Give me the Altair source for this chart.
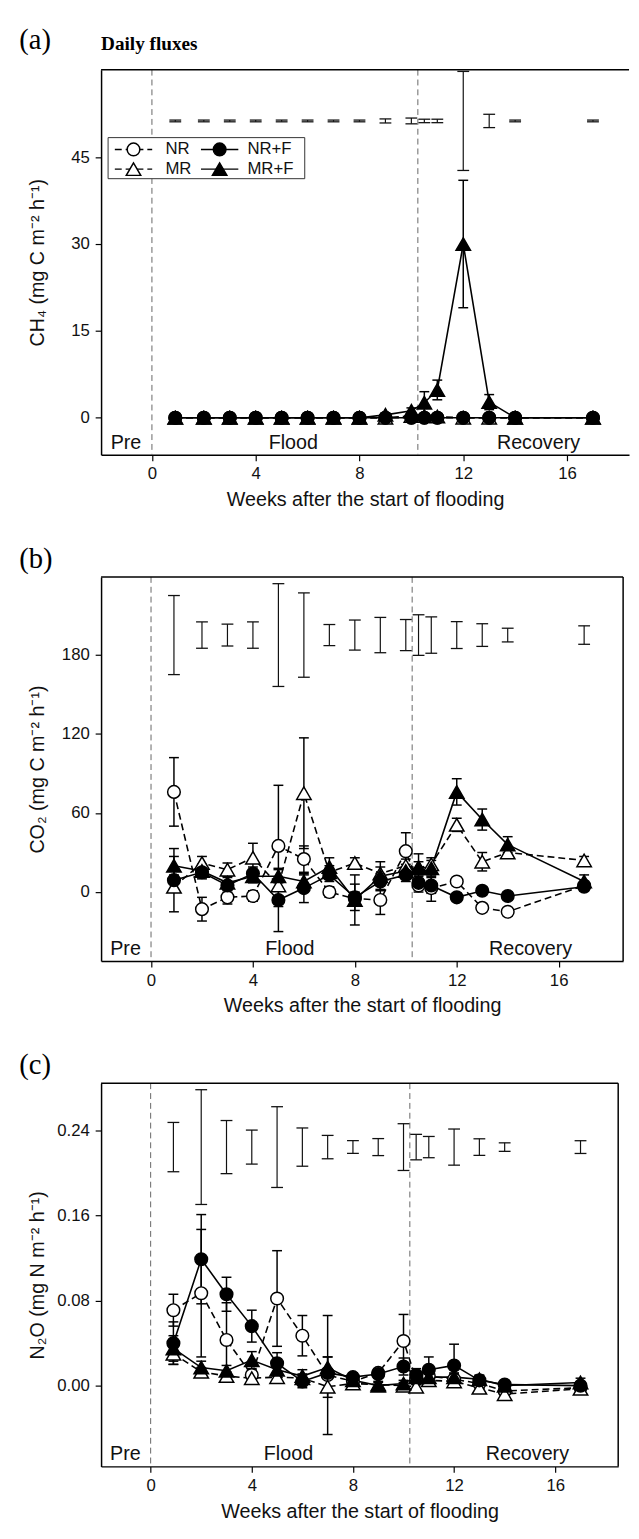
import altair as alt
import pandas as pd

# ---------------- data ----------------
weeks = [0.9, 2, 3, 4, 5, 6, 7, 8, 9, 10, 10.5, 11, 12, 13, 14, 17]
series_order = ["NR", "MR", "NR+F", "MR+F"]
phase_bounds = [0, 10.25]
phase_labels = ["Pre", "Flood", "Recovery"]
phase_label_x = [-1.0, 5.45, 14.9]

# (a) CH4
ch4_nr = [0, 0, 0, 0, 0, 0, 0, 0, 0, 0, 0, 0, 0, 0, 0, 0]
ch4_mr = [0, 0, 0, 0, 0, 0, 0, 0, 0, 0.3, 0.3, 0.2, 0, 0, 0, 0]
ch4_nrf = [0, 0, 0, 0, 0, 0, 0, 0, 0, 0, 0, 0, 0, 0, 0, 0]
ch4_mrf = [0, 0, 0, 0, 0, 0, 0, 0, 0.5, 1.2, 2.6, 4.8, 30.0, 2.7, 0, 0]
ch4_nr_se = [0, 0, 0, 0, 0, 0, 0, 0, 0, 0, 0, 0, 0, 0, 0, 0]
ch4_mr_se = [0, 0, 0, 0, 0, 0, 0, 0, 0, 0, 0, 0, 0, 0, 0, 0]
ch4_nrf_se = [0, 0, 0, 0, 0, 0, 0, 0, 0, 0, 0, 0, 0, 0, 0, 0]
ch4_mrf_se = [0, 0, 0, 0, 0, 0, 0, 0, 0.3, 0.5, 1.9, 1.7, 11.0, 1.3, 0, 0]
ch4_lsd = [0.15, 0.15, 0.15, 0.15, 0.15, 0.15, 0.15, 0.15, 0.35, 0.5, 0.3, 0.3, 8.55, 1.15, 0.15, 0.15]
ch4_lsd_center = 51.25

# (b) CO2
co2_nr = [76, -13, -4, -3, 35, 25, 0, -5, -6, 31, 5, 3, 8, -12, -15, 5]
co2_mr = [4, 22, 17, 26, 5, 75, 15, 22, 14, 20, 18, 21, 51, 23, 30, 24]
co2_nrf = [9, 15, 5, 14, -6, 3, 13, -4, 8, 13, 7, 5, -4, 1, -3, 4]
co2_mrf = [20, 16, 7, 12, 12, 8, 19, -6, 12, 16, 19, 18, 76, 55, 36, 8]
co2_nr_se = [26, 9, 5, 4, 46, 10, 4, 5, 11, 14, 5, 10, 3, 3, 3, 3]
co2_mr_se = [4, 5, 5, 11, 3, 42, 5, 4, 5, 5, 5, 5, 5, 7, 3, 3]
co2_nrf_se = [24, 5, 6, 5, 24, 11, 5, 10, 6, 5, 5, 6, 3, 3, 3, 3]
co2_mrf_se = [7, 5, 5, 5, 5, 5, 7, 19, 11, 5, 10, 6, 10, 8, 6, 5]
co2_lsd = [30, 10, 8.3, 10, 39, 32, 8, 11.4, 13.4, 11.8, 15.4, 13.8, 10.2, 8.6, 5.2, 7]
co2_lsd_center = 195

# (c) N2O
n2o_nr = [0.071, 0.087, 0.043, 0.010, 0.082, 0.047, 0.010, 0.004, 0.012, 0.042, 0.006, 0.009, 0.006, 0.002, -0.005, -0.002]
n2o_mr = [0.030, 0.013, 0.009, 0.007, 0.008, 0.007, -0.001, 0.002, 0.001, 0.000, -0.001, 0.005, 0.004, -0.002, -0.008, -0.003]
n2o_nrf = [0.040, 0.119, 0.086, 0.056, 0.021, 0.004, 0.012, 0.008, 0.011, 0.018, 0.010, 0.015, 0.019, 0.005, 0.001, 0.000]
n2o_mrf = [0.035, 0.017, 0.014, 0.024, 0.015, 0.009, 0.017, 0.005, 0.000, 0.002, 0.008, 0.008, 0.008, 0.006, 0.000, 0.003]
n2o_nr_se = [0.015, 0.060, 0.035, 0.005, 0.045, 0.019, 0.056, 0.004, 0.004, 0.025, 0.005, 0.006, 0.005, 0.004, 0.003, 0.003]
n2o_mr_se = [0.010, 0.004, 0.004, 0.004, 0.004, 0.004, 0.010, 0.003, 0.003, 0.003, 0.003, 0.004, 0.004, 0.004, 0.003, 0.003]
n2o_nrf_se = [0.020, 0.042, 0.016, 0.015, 0.010, 0.006, 0.015, 0.004, 0.004, 0.008, 0.006, 0.012, 0.020, 0.004, 0.003, 0.003]
n2o_mrf_se = [0.012, 0.006, 0.005, 0.008, 0.006, 0.006, 0.010, 0.004, 0.003, 0.003, 0.004, 0.004, 0.004, 0.004, 0.003, 0.004]
n2o_lsd = [0.0232, 0.054, 0.025, 0.016, 0.038, 0.018, 0.011, 0.006, 0.008, 0.022, 0.012, 0.010, 0.017, 0.0078, 0.004, 0.006]
n2o_lsd_center = 0.2245

# legend layout (panel a, in data units)
legend_series = ["NR", "NR+F", "MR", "MR+F"]
legend_sym_x = [-0.71, 2.61, -0.71, 2.61]
legend_txt_x = [0.52, 3.68, 0.52, 3.68]
legend_row_y = [46.33, 46.33, 42.93, 42.93]
legend_box = {"x1": [-1.69], "x2": [5.89], "y1": [41.28], "y2": [48.37]}

STYLE = {
    "NR": ("circle", "white", True),
    "MR": ("triangle-up", "white", True),
    "NR+F": ("circle", "black", False),
    "MR+F": ("triangle-up", "black", False),
}
SIZE = {"circle": 165, "triangle-up": 215}
FONT = "Liberation Sans"


def long_df(vals, errs):
    rows = []
    for s in series_order:
        for w, v, e in zip(weeks, vals[s], errs[s]):
            rows.append({"week": w, "series": s, "value": v, "lo": v - e, "hi": v + e, "err": e})
    return pd.DataFrame(rows)


def panel(tag, tag_y, vals, errs, lsd, lsd_c, ydom, yticks, yfmt, ytitle,
          xdom, w, h, title=None, legend=False, right_border=True):
    xs = alt.Scale(domain=xdom, nice=False, zero=False)
    ys = alt.Scale(domain=ydom, nice=False, zero=False)
    xaxis = alt.Axis(values=[0, 4, 8, 12, 16], title="Weeks after the start of flooding",
                     tickSize=6, labelPadding=5.5, titlePadding=8, labelFontSize=17,
                     titleFontSize=20, titleFontWeight="normal", domainColor="black",
                     domainWidth=1.5, tickColor="black", tickWidth=1.2,
                     labelColor="#111", titleColor="#111", grid=False)
    yaxis = alt.Axis(values=yticks, format=yfmt, title=ytitle, titleX=-54,
                     tickSize=6, labelPadding=6, labelFontSize=17,
                     titleFontSize=20, titleFontWeight="normal", domainColor="black",
                     domainWidth=1.5, tickColor="black", tickWidth=1.2,
                     labelColor="#111", titleColor="#111", grid=False)
    X = lambda f: alt.X(f, type="quantitative", scale=xs, axis=xaxis)
    Y = lambda f: alt.Y(f, type="quantitative", scale=ys, axis=yaxis)
    df = long_df(vals, errs)
    layers = []

    # phase boundaries
    layers.append(alt.Chart(pd.DataFrame({"x": phase_bounds})).mark_rule(
        color="#666", strokeWidth=1, strokeDash=[6, 4]).encode(x=X("x")))

    # phase labels
    ylab = ydom[0] + (ydom[1] - ydom[0]) * 6.0 / h
    layers.append(alt.Chart(pd.DataFrame({"x": phase_label_x, "t": phase_labels, "y": [ylab] * 3}))
                  .mark_text(font=FONT, fontSize=20, baseline="alphabetic", align="center", color="#111")
                  .encode(x=X("x"), y=Y("y"), text="t:N"))

    # LSD bars at top
    ld = pd.DataFrame({"week": weeks, "lo": [lsd_c - v for v in lsd], "hi": [lsd_c + v for v in lsd]})
    layers.append(alt.Chart(ld).mark_rule(color="#111", strokeWidth=1.2).encode(
        x=X("week"), y=Y("lo"), y2="hi:Q"))
    layers.append(alt.Chart(ld).transform_fold(["lo", "hi"], as_=["end", "yv"]).mark_tick(
        orient="horizontal", size=12, thickness=1.3, color="#111", opacity=1).encode(
        x=X("week"), y=Y("yv")))

    # series
    for s in series_order:
        shape, fill, dashed = STYLE[s]
        d = df[df.series == s]
        lk = dict(color="black", strokeWidth=1.6)
        if dashed:
            lk["strokeDash"] = [7, 4]
        layers.append(alt.Chart(d).mark_line(**lk).encode(x=X("week"), y=Y("value")))
        de = d[d.err > 0]
        if len(de):
            layers.append(alt.Chart(de).mark_rule(color="black", strokeWidth=1.5).encode(
                x=X("week"), y=Y("lo"), y2="hi:Q"))
            layers.append(alt.Chart(de).transform_fold(["lo", "hi"], as_=["end", "yv"]).mark_tick(
                orient="horizontal", size=10, thickness=1.5, color="black", opacity=1).encode(
                x=X("week"), y=Y("yv")))
    for s in series_order:
        shape, fill, dashed = STYLE[s]
        d = df[df.series == s]
        layers.append(alt.Chart(d).mark_point(
            shape=shape, filled=True, fill=fill, stroke="black", strokeWidth=1.5,
            size=SIZE[shape], opacity=1).encode(x=X("week"), y=Y("value")))

    # legend
    if legend:
        layers.append(alt.Chart(pd.DataFrame(legend_box)).mark_rect(
            fill="white", stroke="#333", strokeWidth=1).encode(
            x=X("x1"), x2="x2:Q", y=Y("y1"), y2="y2:Q"))
        for s, sx, tx, sy in zip(legend_series, legend_sym_x, legend_txt_x, legend_row_y):
            shape, fill, dashed = STYLE[s]
            ldf = pd.DataFrame({"a": [sx - 0.72], "b": [sx + 0.72], "sx": [sx], "tx": [tx], "y": [sy], "t": [s]})
            rk = dict(color="black", strokeWidth=1.5)
            if dashed:
                rk["strokeDash"] = [7, 4]
            layers.append(alt.Chart(ldf).mark_rule(**rk).encode(x=X("a"), x2="b:Q", y=Y("y")))
            layers.append(alt.Chart(ldf).mark_point(
                shape=shape, filled=True, fill=fill, stroke="black", strokeWidth=1.5,
                size=SIZE[shape], opacity=1).encode(x=X("sx"), y=Y("y")))
            layers.append(alt.Chart(ldf).mark_text(
                font=FONT, fontSize=17, align="left", baseline="middle", color="#111").encode(
                x=X("tx"), y=Y("y"), text="t:N"))

    # frame (top / right)
    one = pd.DataFrame({"k": [1]})
    layers.append(alt.Chart(one).mark_rule(color="black", strokeWidth=1.5).encode(
        x=alt.value(0), x2=alt.value("width"), y=alt.value(0)))
    if right_border:
        layers.append(alt.Chart(one).mark_rule(color="black", strokeWidth=1.5).encode(
            x=alt.value("width"), y=alt.value(0), y2=alt.value("height")))

    # panel tag and title
    layers.append(alt.Chart(pd.DataFrame({"t": [tag]})).mark_text(
        font="Liberation Serif", fontSize=29, align="left", baseline="alphabetic", color="black").encode(
        x=alt.value(-83), y=alt.value(tag_y), text="t:N"))
    if title:
        layers.append(alt.Chart(pd.DataFrame({"t": [title]})).mark_text(
            font="Liberation Serif", fontSize=19.5, fontWeight="bold", align="left",
            baseline="alphabetic", color="black").encode(
            x=alt.value(0), y=alt.value(-19.5), text="t:N"))

    return alt.layer(*layers).properties(width=w, height=h)


pa = panel("(a)", -21,
           {"NR": ch4_nr, "MR": ch4_mr, "NR+F": ch4_nrf, "MR+F": ch4_mrf},
           {"NR": ch4_nr_se, "MR": ch4_mr_se, "NR+F": ch4_nrf_se, "MR+F": ch4_mrf_se},
           ch4_lsd, ch4_lsd_center, [-6.4, 60.1], [0, 15, 30, 45], "d",
           "CH\u2084 (mg C m\u207b\u00b2 h\u207b\u00b9)",
           [-1.96, 18.39], 536, 391, title="Daily fluxes", legend=True, right_border=False)

pb = panel("(b)", -9,
           {"NR": co2_nr, "MR": co2_mr, "NR+F": co2_nrf, "MR+F": co2_mrf},
           {"NR": co2_nr_se, "MR": co2_mr_se, "NR+F": co2_nrf_se, "MR+F": co2_mrf_se},
           co2_lsd, co2_lsd_center, [-52.4, 239.1], [0, 60, 120, 180], "d",
           "CO\u2082 (mg C m\u207b\u00b2 h\u207b\u00b9)",
           [-1.96, 18.53], 530, 390)

pc = panel("(c)", -9,
           {"NR": n2o_nr, "MR": n2o_mr, "NR+F": n2o_nrf, "MR+F": n2o_mrf},
           {"NR": n2o_nr_se, "MR": n2o_mr_se, "NR+F": n2o_nrf_se, "MR+F": n2o_mrf_se},
           n2o_lsd, n2o_lsd_center, [-0.076, 0.2846], [0, 0.08, 0.16, 0.24], ".2f",
           "N\u2082O (mg N m\u207b\u00b2 h\u207b\u00b9)",
           [-1.96, 18.49], 525, 389)

chart = alt.vconcat(pa, pb, pc, spacing=124, bounds="flush").properties(
    padding={"left": 10.5, "top": 6, "right": 0, "bottom": 0}
).configure_view(stroke="transparent").configure_axis(
    labelFont=FONT, titleFont=FONT, grid=False
)

chart.save("out.html", embed_options={"renderer": "svg", "actions": False})
